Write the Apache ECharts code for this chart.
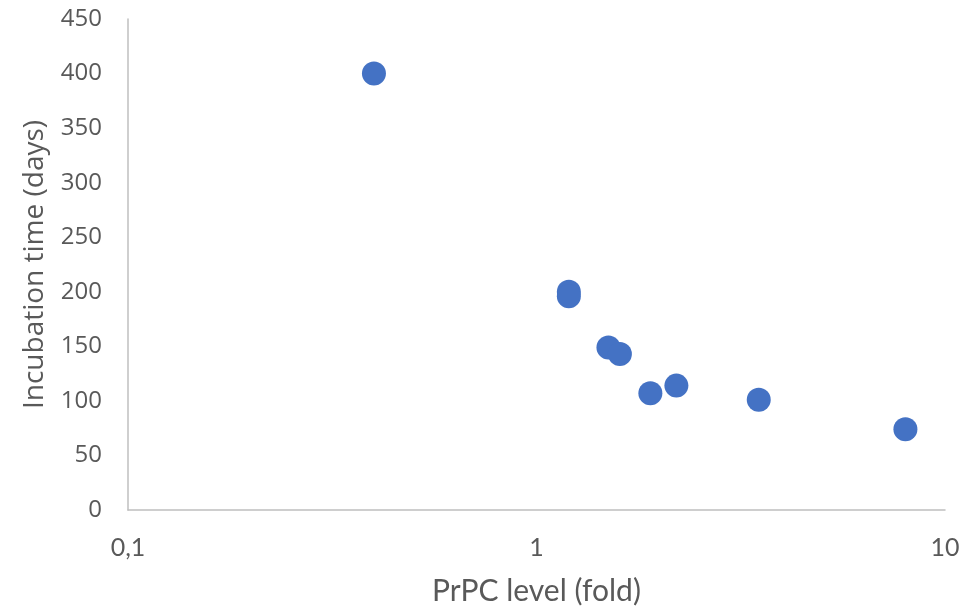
<!DOCTYPE html>
<html><head><meta charset="utf-8">
<script src="https://cdn.jsdelivr.net/npm/echarts@6/dist/echarts.min.js"></script>
<style>html,body{margin:0;padding:0;background:#fff}#c{width:978px;height:611px}</style>
</head><body><div id="c"></div>
<script>
const prpcLevel = [0.40, 1.20, 1.20, 1.50, 1.60, 1.90, 2.20, 3.50, 8.0];
const incubationDays = [400, 200, 196, 149, 143, 107, 114, 101, 74];
const xTitle = 'PrPC level (fold)';
const yTitle = 'Incubation time (days)';

const data = prpcLevel.map((x, i) => [x, incubationDays[i]]);
const chart = echarts.init(document.getElementById('c'));
chart.setOption({
  animation: false,
  grid: {left: 128, right: 33, top: 19, bottom: 96},
  xAxis: {
    type: 'log', logBase: 10, min: 0.1, max: 10,
    name: xTitle, nameLocation: 'middle', nameGap: 66,
    nameTextStyle: {fontFamily: 'Lato', fontSize: 30, color: '#595959'},
    axisLine: {lineStyle: {color: '#BFBFBF', width: 1.5}},
    axisTick: {show: false},
    splitLine: {show: false},
    minorTick: {show: false},
    axisLabel: {
      fontFamily: 'Lato', fontSize: 25, color: '#595959', margin: 25,
      formatter: v => String(v).replace('.', ',')
    }
  },
  yAxis: {
    type: 'value', min: 0, max: 450, interval: 50,
    name: yTitle, nameLocation: 'middle', nameGap: 79,
    nameTextStyle: {fontFamily: 'Open Sans', fontSize: 28, color: '#595959'},
    axisLine: {show: true, lineStyle: {color: '#BFBFBF', width: 1.5}},
    axisTick: {show: false},
    splitLine: {show: false},
    axisLabel: {fontFamily: 'Open Sans', fontSize: 24, color: '#595959', margin: 26}
  },
  series: [{
    type: 'scatter',
    data: data,
    symbol: 'circle',
    symbolSize: 24,
    itemStyle: {color: '#4472C4', opacity: 1}
  }]
});
</script></body></html>
